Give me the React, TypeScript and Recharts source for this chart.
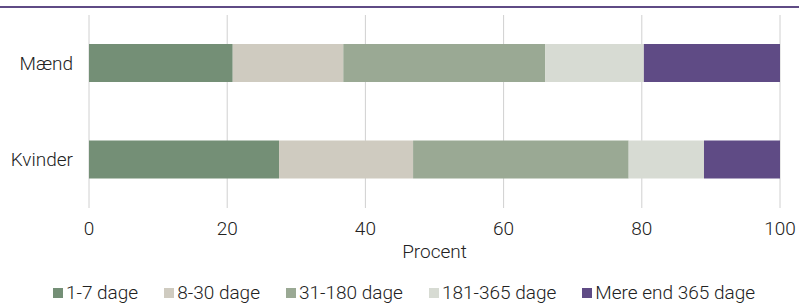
import React from 'react';
import { BarChart, Bar, XAxis, YAxis, CartesianGrid, Legend, Label } from 'recharts';

const categories = ['Mænd', 'Kvinder'];
const seriesNames = ['1-7 dage', '8-30 dage', '31-180 dage', '181-365 dage', 'Mere end 365 dage'];
const d1_7 = [20.8, 27.5];
const d8_30 = [16.0, 19.4];
const d31_180 = [29.2, 31.2];
const d181_365 = [14.3, 10.9];
const dOver365 = [19.7, 11.0];
const xTicks = [0, 20, 40, 60, 80, 100];
const colors = ['#748f76', '#cfcbc0', '#9aa994', '#d7dbd3', '#5f4b85'];

const seriesValues = [d1_7, d8_30, d31_180, d181_365, dOver365];
const keys = ['s0', 's1', 's2', 's3', 's4'];
const data = categories.map((c, i) => {
  const row: any = { name: c };
  keys.forEach((k, j) => { row[k] = seriesValues[j][i]; });
  return row;
});

const FONT = 'Roboto, sans-serif';
const W = 300;

const LegendContent = () => (
  <div style={{ display: 'flex', justifyContent: 'center', fontFamily: FONT, fontWeight: W, fontSize: 19, color: '#222', paddingLeft: 28, lineHeight: '20px' }}>
    {seriesNames.map((n, i) => (
      <div key={n} style={{ display: 'flex', alignItems: 'center', marginRight: i < seriesNames.length - 1 ? 26 : 0 }}>
        <span style={{ display: 'inline-block', width: 10, height: 10, background: colors[i], marginRight: 3 }} />
        <span>{n}</span>
      </div>
    ))}
  </div>
);

export default function App() {
  return (
    <div style={{ position: 'absolute', left: 0, top: 0, width: 799, height: 303, background: '#fff' }}>
      <div style={{ position: 'absolute', left: 0, top: 6, width: 799, height: 2, background: '#5f4b85' }} />
      <BarChart
        width={799}
        height={303}
        data={data}
        layout="vertical"
        margin={{ top: 15, right: 19, bottom: 0, left: 0 }}
        barCategoryGap={0}
      >
        <CartesianGrid horizontal={false} vertical={true} stroke="#d0d0d0" />
        <XAxis
          type="number"
          domain={[0, 100]}
          ticks={xTicks}
          axisLine={false}
          tickLine={false}
          tickSize={0}
          tickMargin={14}
          height={75}
          tick={{ fontFamily: FONT, fontWeight: W, fontSize: 19, fill: '#222' }}
        >
          <Label value="Procent" position="insideBottom" offset={25} style={{ fontFamily: FONT, fontWeight: W, fontSize: 19, fill: '#222' }} />
        </XAxis>
        <YAxis
          type="category"
          dataKey="name"
          width={89}
          axisLine={false}
          tickLine={false}
          tickSize={0}
          tickMargin={16}
          tick={{ fontFamily: FONT, fontWeight: W, fontSize: 19, fill: '#222' }}
        />
        <Legend verticalAlign="bottom" height={20} content={<LegendContent />} />
        {keys.map((k, i) => (
          <Bar key={k} dataKey={k} name={seriesNames[i]} stackId="a" fill={colors[i]} barSize={38} isAnimationActive={false} />
        ))}
      </BarChart>
    </div>
  );
}
